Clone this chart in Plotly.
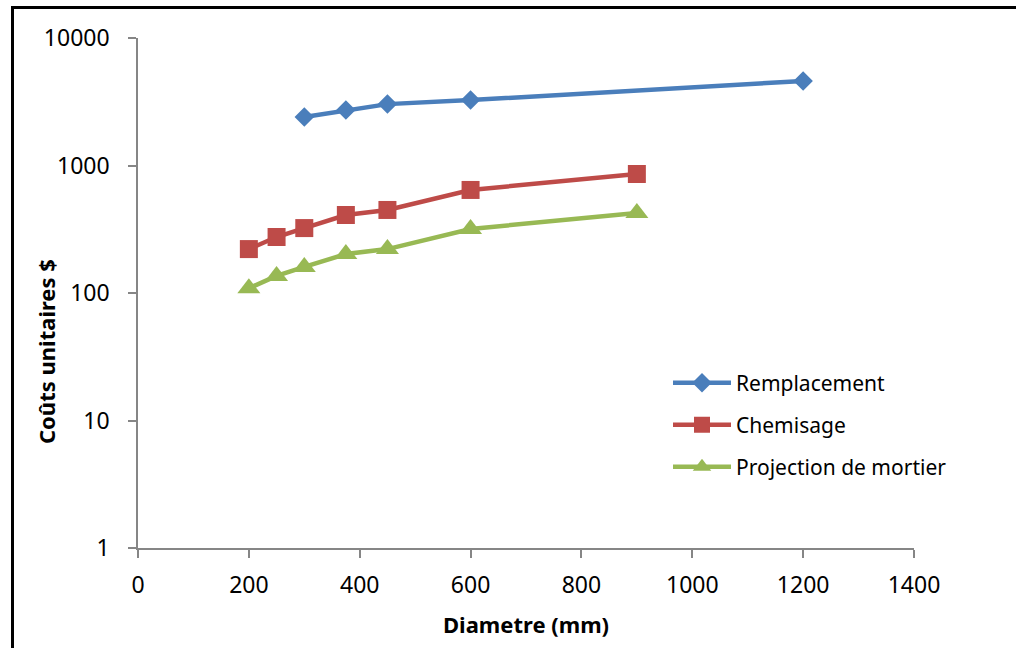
import plotly.graph_objects as go

# Data
diam_remp = [300, 375, 450, 600, 1200]
cost_remp = [2400, 2720, 3030, 3260, 4600]

diam_chem = [200, 250, 300, 375, 450, 600, 900]
cost_chem = [221, 275, 323, 409, 448, 643, 858]

diam_proj = [200, 250, 300, 375, 450, 600, 900]
cost_proj = [109, 136, 160, 202, 221, 318, 424]

series_names = ["Remplacement", "Chemisage", "Projection de mortier"]
y_tickvals = [1, 10, 100, 1000, 10000]
y_ticktext = ["1", "10", "100", "1000", "10000"]
x_tickvals = [0, 200, 400, 600, 800, 1000, 1200, 1400]

BLUE = "#4A7EBB"
RED = "#BE4B48"
GREEN = "#98B954"
AXIS = "#868686"
FONT = "Noto Sans"

fig = go.Figure()
fig.add_trace(go.Scatter(
    x=diam_remp, y=cost_remp, mode="lines+markers", name=series_names[0],
    line=dict(color=BLUE, width=4.5),
    marker=dict(symbol="diamond", size=15, color=BLUE),
    legend="legend"))
fig.add_trace(go.Scatter(
    x=diam_chem, y=cost_chem, mode="lines+markers", name=series_names[1],
    line=dict(color=RED, width=4.5),
    marker=dict(symbol="square", size=18, color=RED),
    legend="legend2"))
fig.add_trace(go.Scatter(
    x=diam_proj, y=cost_proj, mode="lines+markers", name=series_names[2],
    line=dict(color=GREEN, width=4.5),
    marker=dict(symbol="triangle-up", size=20, color=GREEN),
    legend="legend3"))

W, H = 1016, 648
# plot area in page pixels: x 138..914, y 38..548
L, R, T, B = 138, W - 914, 38, H - 548
pw, ph = W - L - R, H - T - B

def px_x(x):  # page px -> paper
    return (x - L) / pw

def px_y(y):
    return (H - B - y) / ph

legend_common = dict(font=dict(family=FONT, size=21, color="black"),
                     bgcolor="rgba(0,0,0,0)", borderwidth=0,
                     xanchor="left", yanchor="middle", itemwidth=58,
                     tracegroupgap=0)

LX = px_x(668)
fig.update_layout(
    width=W, height=H,
    margin=dict(l=L, r=R, t=T, b=B),
    paper_bgcolor="white", plot_bgcolor="white",
    font=dict(family=FONT, size=23, color="black"),
    showlegend=True,
    legend=dict(x=LX, y=px_y(383), **legend_common),
    legend2=dict(x=LX, y=px_y(425), **legend_common),
    legend3=dict(x=LX, y=px_y(467), **legend_common),
    xaxis=dict(range=[0, 1400], tickvals=x_tickvals, showgrid=False,
               zeroline=False, showline=True, linecolor=AXIS, linewidth=1.5,
               ticks="outside", ticklen=8, tickcolor=AXIS, tickwidth=1.5,
               ticklabelstandoff=8,
               tickfont=dict(family=FONT, size=23, color="black")),
    yaxis=dict(type="log", range=[0, 4], tickvals=y_tickvals,
               ticktext=y_ticktext, showgrid=False, zeroline=False,
               showline=True, linecolor=AXIS, linewidth=1.5,
               ticks="outside", ticklen=8, tickcolor=AXIS, tickwidth=1.5,
               ticklabelstandoff=14,
               tickfont=dict(family=FONT, size=23, color="black")),
    annotations=[
        dict(text="<b>Diametre (mm)</b>", xref="paper", yref="paper",
             x=0.5, y=px_y(624), xanchor="center", yanchor="middle",
             showarrow=False, font=dict(family=FONT, size=22, color="black")),
        dict(text="<b>Coûts unitaires $</b>", xref="paper", yref="paper",
             x=px_x(46), y=px_y(352), xanchor="center", yanchor="middle",
             textangle=-90, showarrow=False,
             font=dict(family=FONT, size=22, color="black")),
    ],
    shapes=[
        dict(type="rect", xref="paper", yref="paper",
             x0=px_x(12.5), x1=px_x(1040), y0=px_y(670), y1=px_y(7.5),
             line=dict(color="black", width=3), fillcolor="rgba(0,0,0,0)",
             layer="above"),
    ],
)

fig.write_html(
    "out.html",
    config={"displayModeBar": False},
    post_script="document.body.style.margin='0';document.body.style.overflow='hidden';",
)
